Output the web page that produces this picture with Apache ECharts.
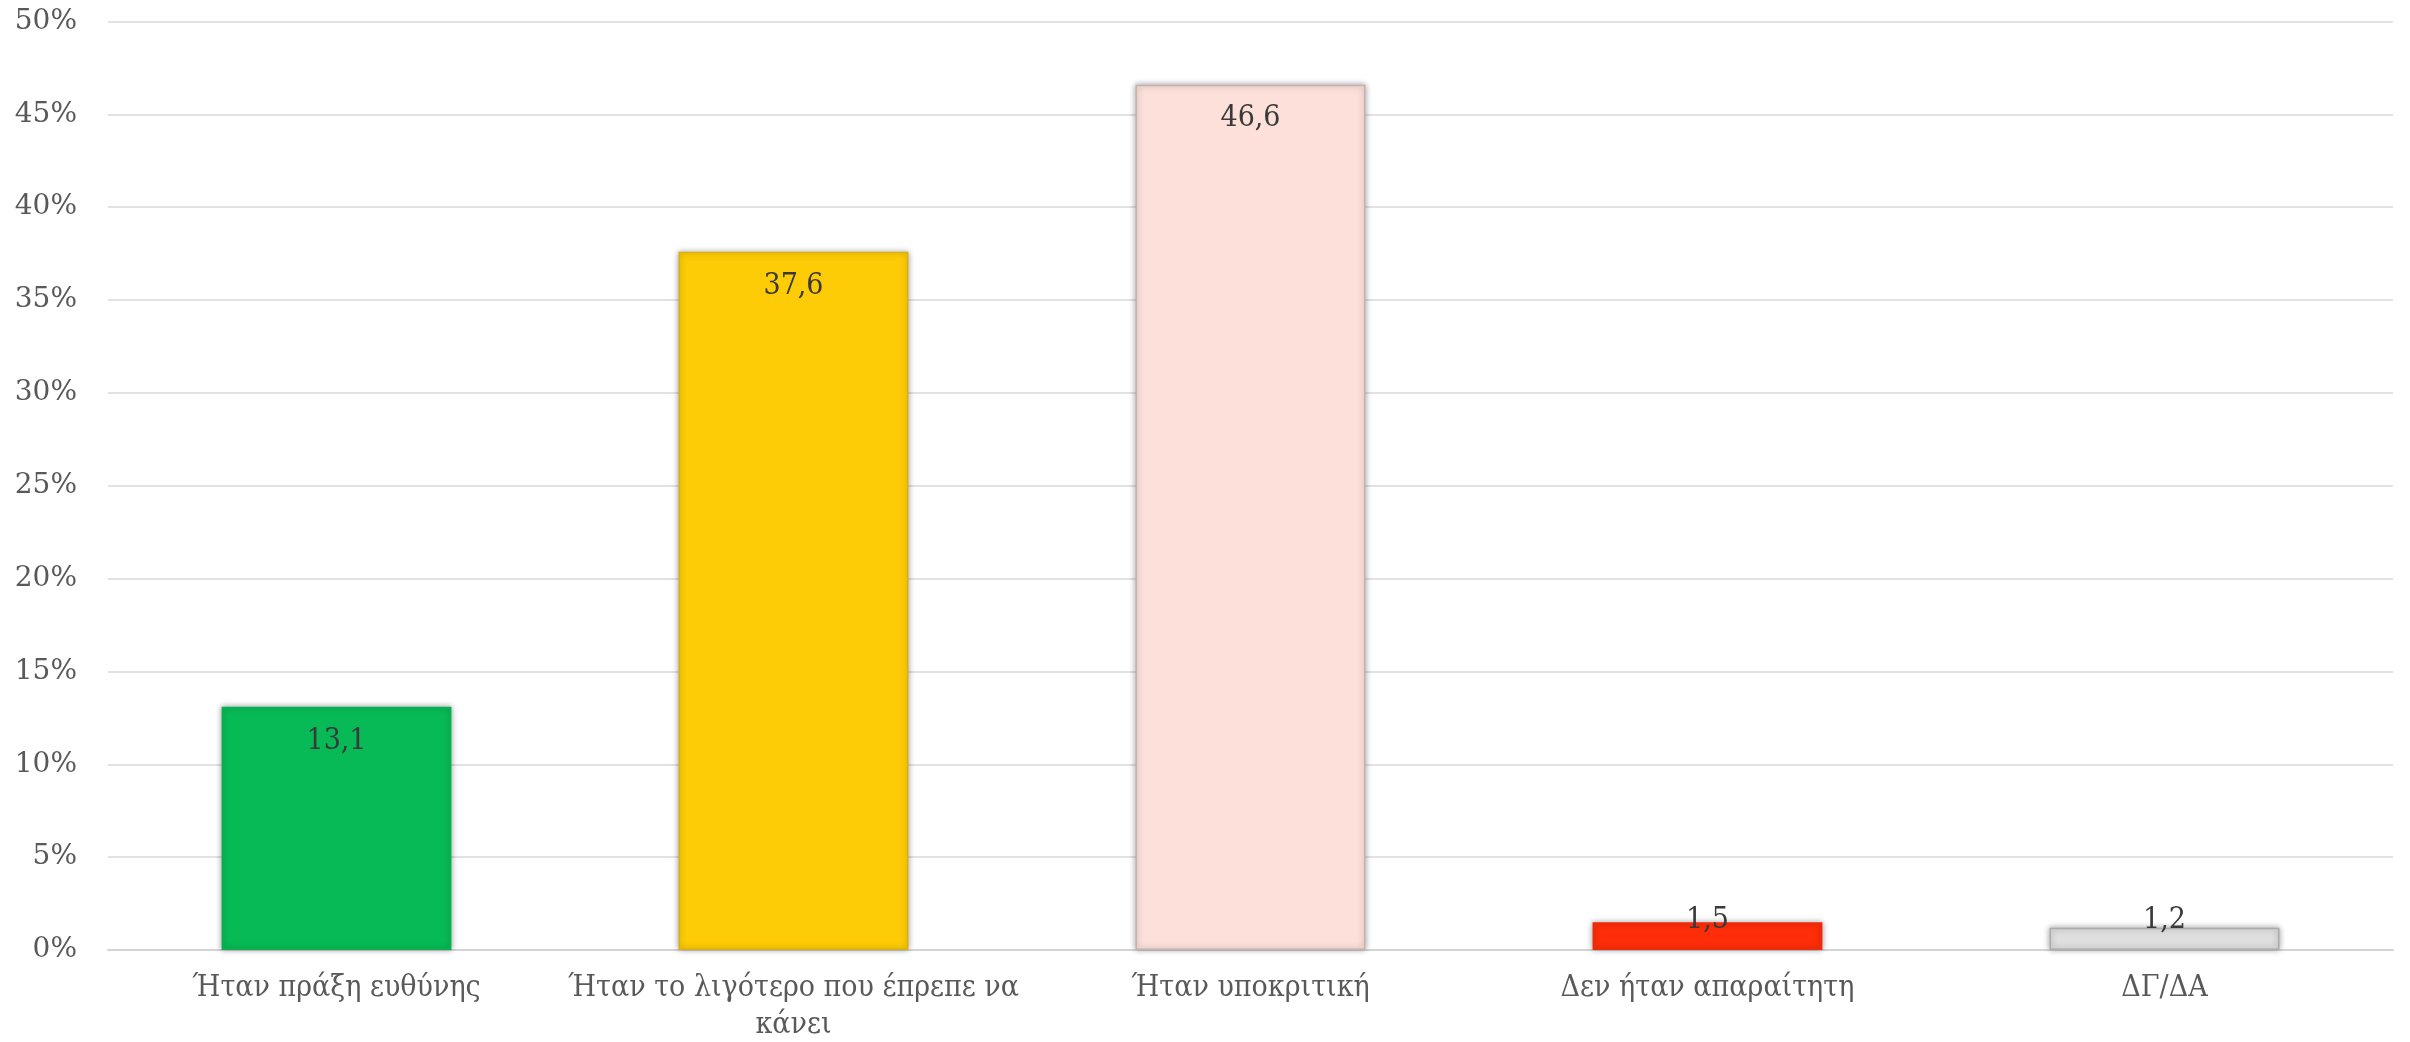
<!DOCTYPE html>
<html>
<head>
<meta charset="utf-8">
<script src="https://cdn.jsdelivr.net/npm/echarts@6/dist/echarts.min.js"></script>
<style>html,body{margin:0;padding:0;background:#fff;}#c{width:2410px;height:1042px;}</style>
</head>
<body>
<div id="c"></div>
<script>
const categories = ['Ήταν πράξη ευθύνης', 'Ήταν το λιγότερο που έπρεπε να κάνει', 'Ήταν υποκριτική', 'Δεν ήταν απαραίτητη', 'ΔΓ/ΔΑ'];
const values = [13.1, 37.6, 46.6, 1.5, 1.2];
const valueLabels = ['13,1', '37,6', '46,6', '1,5', '1,2'];
const barColors = ['#08BA56', '#FECC06', '#FEE0DA', '#FF2D09', '#DFDFDF'];
const barBorders = ['#08B052', '#D9B010', '#C4B2AE', '#F02A08', '#ABABAB'];
const yTicks = [0, 5, 10, 15, 20, 25, 30, 35, 40, 45, 50];

function wrapWords(s, maxChars) {
  const words = s.split(' ');
  const lines = [];
  let cur = '';
  words.forEach(w => {
    const next = cur ? cur + ' ' + w : w;
    if (next.length > maxChars && cur) { lines.push(cur); cur = w; } else { cur = next; }
  });
  if (cur) lines.push(cur);
  return lines.join('\n');
}

const chart = echarts.init(document.getElementById('c'));
const data = values.map((v, i) => ({
  value: v,
  itemStyle: { color: barColors[i], borderColor: barBorders[i], borderWidth: 1.5 },
  label: v < 5 ? { position: 'insideBottom', distance: 15 } : { position: 'insideTop', distance: 19 }
}));
chart.setOption({
  animation: false,
  grid: { left: 108, right: 17, top: 21.5, bottom: 92, containLabel: false, outerBoundsMode: 'none' },
  xAxis: {
    type: 'category',
    data: categories,
    axisTick: { show: false },
    axisLine: { lineStyle: { color: '#D4D4D4', width: 2 } },
    axisLabel: {
      interval: 0,
      margin: 20,
      color: '#595959',
      fontFamily: 'DejaVu Serif Condensed',
      fontSize: 30,
      lineHeight: 37,
      formatter: v => wrapWords(v, 30)
    }
  },
  yAxis: {
    type: 'value',
    min: yTicks[0],
    max: yTicks[yTicks.length - 1],
    interval: 5,
    axisLine: { show: false },
    axisTick: { show: false },
    splitLine: { lineStyle: { color: '#D9D9D9', width: 1.5 } },
    axisLabel: {
      margin: 31,
      color: '#595959',
      fontFamily: 'DejaVu Serif',
      fontSize: 28,
      formatter: '{value}%'
    }
  },
  series: [{
    type: 'bar',
    data: data,
    barWidth: '50.3%',
    itemStyle: { shadowBlur: 6, shadowColor: 'rgba(0,0,0,0.35)' },
    label: {
      show: true,
      color: '#3A3A3A',
      fontFamily: 'DejaVu Serif Condensed',
      fontSize: 30,
      formatter: p => valueLabels[p.dataIndex]
    }
  }]
});
</script>
</body>
</html>
